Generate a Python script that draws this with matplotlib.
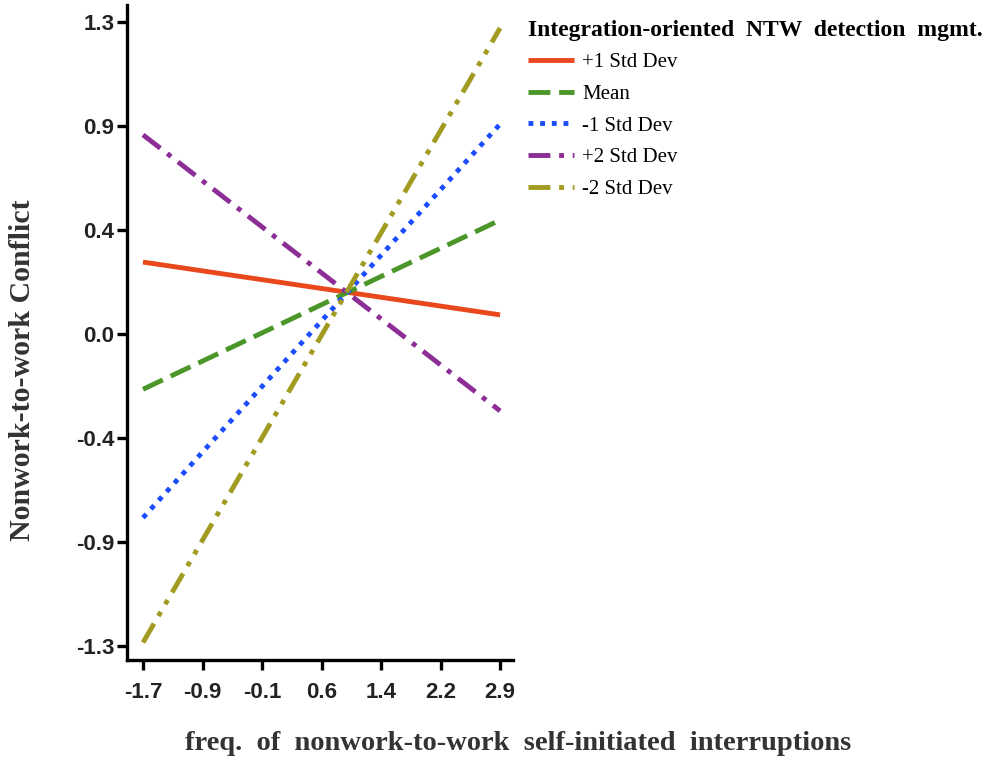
import matplotlib
matplotlib.use("Agg")
import matplotlib.pyplot as plt
import numpy as np

# interruption frequency, endpoints of each simple slope
x_vals = [-1.7, 2.9]

plus1_sd = [0.30, 0.08]
mean_vals = [-0.23, 0.475]
minus1_sd = [-0.765, 0.875]
plus2_sd = [0.83, -0.32]
minus2_sd = [-1.285, 1.275]

series_names = ["+1 Std Dev", "Mean", "-1 Std Dev", "+2 Std Dev", "-2 Std Dev"]

x_tick_labels = ["-1.7", "-0.9", "-0.1", "0.6", "1.4", "2.2", "2.9"]
y_tick_labels = ["-1.3", "-0.9", "-0.4", "0.0", "0.4", "0.9", "1.3"]

colors = ["#E8481C", "#4A9628", "#1B4DFF", "#8C2E96", "#A29B22"]
dashes = [None, (4.5, 1.8), (1.0, 1.4), (4.5, 1.8, 1.0, 1.8),
          (4.5, 1.8, 1.0, 1.8, 1.0, 1.8)]

fig = plt.figure(figsize=(9.97, 7.59), dpi=100)
ax = fig.add_axes([0.1274, 0.1304, 0.3872, 0.863])

all_series = [plus1_sd, mean_vals, minus1_sd, plus2_sd, minus2_sd]
for vals, name, col, d in zip(all_series, series_names, colors, dashes):
    line, = ax.plot(x_vals, vals, color=col, linewidth=3.5, label=name,
                    solid_capstyle="butt", dash_capstyle="butt")
    if d is not None:
        line.set_dashes(d)

ax.set_xlim(-1.906, 3.067)
ax.set_ylim(-1.358, 1.371)

ax.set_xticks(np.linspace(-1.7, 2.9, 7))
ax.set_xticklabels(x_tick_labels)
ax.set_yticks(np.linspace(-1.3, 1.3, 7))
ax.set_yticklabels(y_tick_labels)

for side in ["top", "right"]:
    ax.spines[side].set_visible(False)
for side in ["left", "bottom"]:
    ax.spines[side].set_linewidth(2.4)

ax.tick_params(axis="both", direction="out", length=7, width=2.4)
ax.tick_params(axis="y", pad=2)
ax.tick_params(axis="x", pad=9)
for lab in ax.get_xticklabels() + ax.get_yticklabels():
    lab.set_fontfamily("Liberation Sans")
    lab.set_fontweight("bold")
    lab.set_fontsize(16)
    lab.set_color("#222222")

fig.text(0.52, 0.021,
         "freq.  of  nonwork-to-work  self-initiated  interruptions",
         fontfamily="Liberation Serif", fontweight="bold", fontsize=20.5,
         color="#333333", ha="center", va="center")
fig.text(0.023, 0.5125, "Nonwork-to-work Conflict",
         fontfamily="Liberation Serif", fontweight="bold", fontsize=21.5,
         color="#333333", ha="center", va="center", rotation=90)

leg = ax.legend(loc="upper left", bbox_to_anchor=(0.511, 0.999),
                bbox_transform=fig.transFigure, frameon=False,
                title="Integration-oriented  NTW  detection  mgmt.",
                prop={"family": "Liberation Serif", "size": 15},
                handlelength=2.2, handletextpad=0.4, labelspacing=0.58)
leg.get_title().set_fontfamily("Liberation Serif")
leg.get_title().set_fontweight("bold")
leg.get_title().set_fontsize(17)
leg._legend_box.align = "left"

fig.savefig("out.png", dpi=100)
